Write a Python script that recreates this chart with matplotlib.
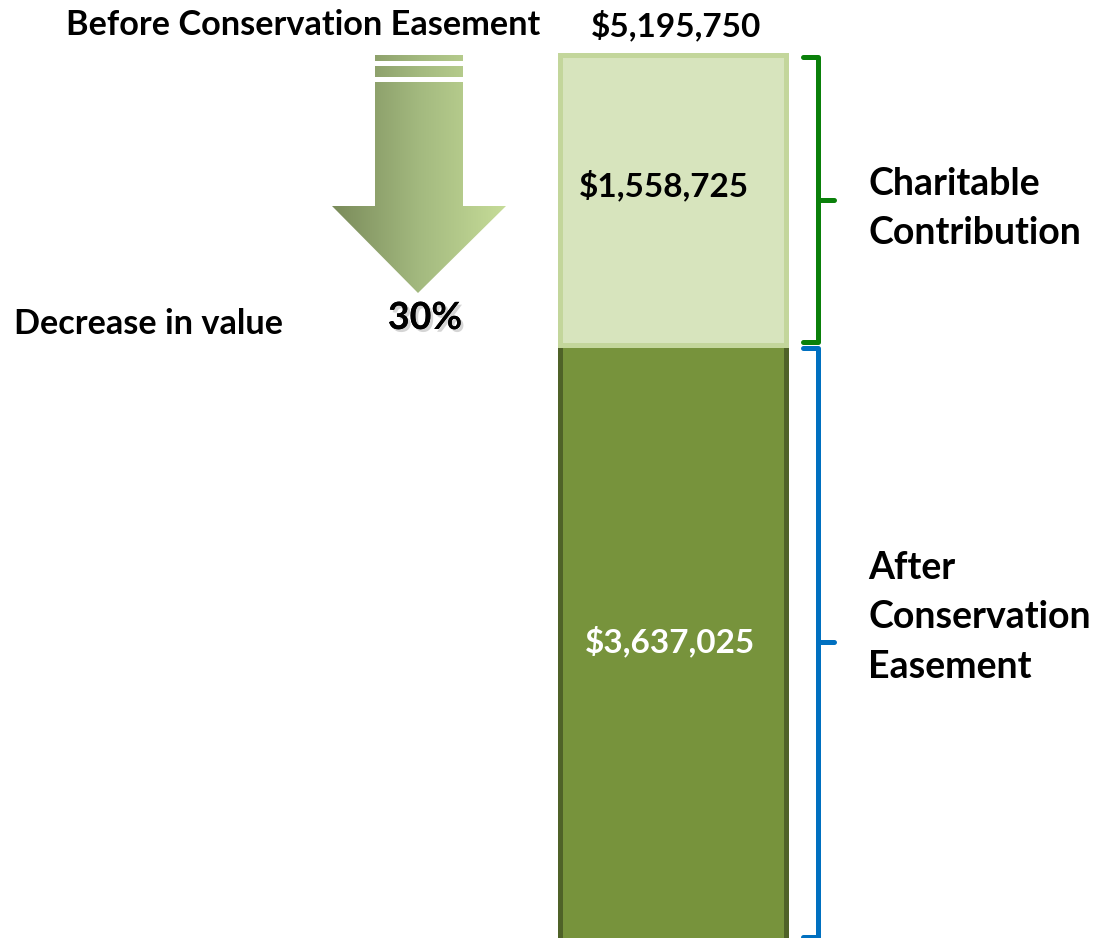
import numpy as np
import matplotlib.pyplot as plt
from matplotlib.patches import Polygon
from matplotlib.colors import LinearSegmentedColormap
import matplotlib.patheffects as pe

plt.rcParams['font.family'] = ['Lato', 'DejaVu Sans']
plt.rcParams['font.weight'] = 'bold'

# Datos del grafico
segments = ['Charitable Contribution', 'After Conservation Easement']
values = [1558725, 3637025]
total_before = 5195750
pct_decrease = 30
title_left = 'Before Conservation Easement'
side_labels = ['Charitable\nContribution', 'After\nConservation\nEasement']

fig = plt.figure(figsize=(11.05, 9.38), dpi=100)

# Eje de la barra (escala en dolares)
ax = fig.add_axes([0, 0, 1, 1])
ax.set_xlim(0, 1105)
ax.set_ylim(449625, 5491375)
ax.axis('off')
y_low = ax.get_ylim()[0]

bar_x = 673
bar_w = 226
after, charity = values[1], values[0]
ax.bar(bar_x, after, width=bar_w, bottom=0, color='#77933c',
       edgecolor='#4f6228', linewidth=3.6, zorder=2)
ax.bar(bar_x, charity, width=bar_w, bottom=after, color='#d7e4bd',
       edgecolor='#c3d69b', linewidth=3.6, zorder=3)

ax.text(bar_x - 9, after + charity * 0.55, '${:,}'.format(charity),
        ha='center', va='center', fontsize=24, color='black')
ax.text(bar_x - 3, (y_low + after) / 2, '${:,}'.format(after),
        ha='center', va='center', fontsize=24, color='white')
ax.text(bar_x + 3, total_before + 160000, '${:,}'.format(total_before),
        ha='center', va='center', fontsize=24, color='black')

# Llaves a la derecha
def bracket(y0, y1, color):
    ax.plot([803, 818, 818, 803], [y1, y1, y0, y0], color=color, lw=3.6,
            solid_joinstyle='round', solid_capstyle='round')
    ax.plot([818, 834], [(y0 + y1) / 2] * 2, color=color, lw=3.6,
            solid_capstyle='round')

bracket(after + 15000, total_before - 10000, '#0a800a')
bracket(y_low + 5000, after - 15000, '#0070c0')

ax.text(868, after + charity * 0.47, side_labels[0], ha='left', va='center',
        fontsize=27, linespacing=1.55)
ax.text(868, (y_low + after) / 2 + 129000, side_labels[1], ha='left',
        va='center', fontsize=27, linespacing=1.55)

# Capa de anotaciones en pixeles
ov = fig.add_axes([0, 0, 1, 1])
ov.axis('off')
ov.patch.set_alpha(0)

arrow = [(375, 82), (463, 82), (463, 206), (506, 206), (418, 293),
         (332, 206), (375, 206)]
cmap = LinearSegmentedColormap.from_list('g', ['#7a8b5a', '#a3b97f', '#c6dc98'])
grad = np.linspace(0, 1, 256).reshape(1, -1)
for shape in [arrow, [(375, 55), (463, 55), (463, 61), (375, 61)],
              [(375, 66), (463, 66), (463, 77), (375, 77)]]:
    poly = Polygon(shape, closed=True, facecolor='none', edgecolor='none')
    ov.add_patch(poly)
    im = ov.imshow(grad, cmap=cmap, aspect='auto', extent=[332, 506, 293, 55],
                   zorder=1)
    im.set_clip_path(poly)
ov.set_xlim(0, 1105)
ov.set_ylim(938, 0)

ov.text(303, 25, title_left, ha='center', va='center', fontsize=24.7)
ov.text(149, 324, 'Decrease in value', ha='center', va='center', fontsize=24.7)
ov.text(425, 318, '{}%'.format(pct_decrease), ha='center', va='center',
        fontsize=27,
        path_effects=[pe.withSimplePatchShadow(offset=(2, -2), shadow_rgbFace='#888888',
                                               alpha=0.35),
                      pe.Normal()])

fig.savefig('out.png', dpi=100)
